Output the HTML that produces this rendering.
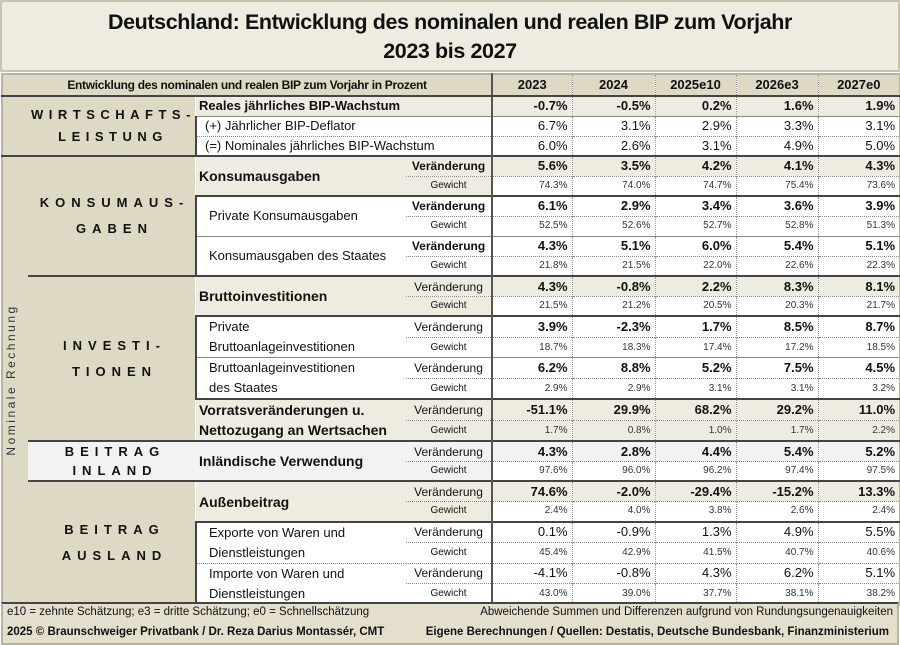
<!DOCTYPE html>
<html><head><meta charset="utf-8"><style>
*{box-sizing:border-box;margin:0;padding:0}
body{width:900px;height:645px;background:#fff;font-family:"Liberation Sans",sans-serif;color:#111;overflow:hidden;position:relative}
#title{position:absolute;left:0;top:0;width:900px;height:72px;background:#eeece1;border:2px solid #c9c4ad;text-align:center;font-weight:bold;font-size:21.5px;line-height:29px;padding-top:6px;letter-spacing:-0.4px}
table{position:absolute;left:1px;top:73px;width:898px;border-collapse:collapse;table-layout:fixed;border:2px solid #b8b39c}
td{padding:0;overflow:hidden;white-space:nowrap;vertical-align:middle;line-height:14px}
tr{height:20.05px}
tr.r1{height:20px}
tr.h{height:22px}
.tan{background:#ddd9c4}.bl{background:#eeece1}.gr{background:#f2f2f2}.w{background:#fff}
.v{text-align:right;padding-right:4px;border-left:1px dotted #999;font-size:13px}
.vb{font-weight:bold}
.g{text-align:right;padding-right:4px;border-left:1px dotted #999;font-size:10px;color:#333;border-top:1px dotted #888}
.sub{text-align:center;font-size:12px;border-left:0}
.sg{text-align:center;font-size:10px;border-top:1px dotted #888}
.it{font-size:13px;padding-left:12px;line-height:20px}
.itb{font-size:14px;font-weight:bold;padding-left:3px;line-height:20px}
.one{line-height:16px}
.sect{text-align:center;font-weight:bold;font-size:13px;letter-spacing:6px;line-height:26px;padding-left:6px}
.T{border-top:2px solid #444}
.Tt{border-top:1px solid #888}
.L{border-left:2px solid #444}
.val0{border-left:2px solid #555}
.hd{background:#ddd9c4;font-weight:bold;font-size:13px;text-align:center;border-bottom:2px solid #444}
#foot{position:absolute;left:1px;top:602px;width:898px;height:43px;background:#e3dfcc;border:2px solid #b8b39c;border-top:2px solid #444;font-size:11.5px}
#foot div{position:absolute;white-space:nowrap}
</style></head><body>
<div id="title">Deutschland: Entwicklung des nominalen und realen BIP zum Vorjahr<br>2023 bis 2027</div>
<table>
<colgroup><col style="width:26px"><col style="width:168px"><col style="width:210px"><col style="width:86px"><col style="width:80px"><col style="width:83px"><col style="width:81px"><col style="width:82px"><col style="width:82px"></colgroup>
<tr class="h"><td class="hd" colspan="4" style="font-size:12px;letter-spacing:-0.3px">Entwicklung des nominalen und realen BIP zum Vorjahr in Prozent</td><td class="hd val0">2023</td><td class="hd" style="border-left:1px dotted #999">2024</td><td class="hd" style="border-left:1px dotted #999">2025e10</td><td class="hd" style="border-left:1px dotted #999">2026e3</td><td class="hd" style="border-left:1px dotted #999">2027e0</td></tr>

<tr class="r1"><td class="tan sect" colspan="2" rowspan="3" style="padding-left:28px;line-height:22px;letter-spacing:5.5px">WIRTSCHAFTS-<br>LEISTUNG</td><td class="bl itb one" colspan="2" style="font-size:13px">Reales jährliches BIP-Wachstum</td><td class="bl v vb val0">-0.7%</td><td class="bl v vb">-0.5%</td><td class="bl v vb">0.2%</td><td class="bl v vb">1.6%</td><td class="bl v vb">1.9%</td></tr>
<tr class="r1"><td class="w it one L Tt" colspan="2" style="padding-left:8px">(+) Jährlicher BIP-Deflator</td><td class="w v val0 Tt">6.7%</td><td class="w v Tt">3.1%</td><td class="w v Tt">2.9%</td><td class="w v Tt">3.3%</td><td class="w v Tt">3.1%</td></tr>
<tr class="r1"><td class="w it one L" colspan="2" style="padding-left:8px;border-top:1px dotted #888">(=) Nominales jährliches BIP-Wachstum</td><td class="w v val0" style="border-top:1px dotted #888">6.0%</td><td class="w v" style="border-top:1px dotted #888">2.6%</td><td class="w v" style="border-top:1px dotted #888">3.1%</td><td class="w v" style="border-top:1px dotted #888">4.9%</td><td class="w v" style="border-top:1px dotted #888">5.0%</td></tr>

<tr><td class="tan T" rowspan="22" style="position:relative"><div style="position:absolute;left:1px;top:0;width:24px;height:100%;writing-mode:vertical-rl;transform:rotate(180deg);text-align:center;font-size:12px;letter-spacing:2.5px;color:#333">Nominale Rechnung</div></td>
<td class="tan sect T" rowspan="6">KONSUMAUS-<br>GABEN</td>
<td class="bl itb T" rowspan="2">Konsumausgaben</td><td class="bl sub T" style="font-weight:bold">Veränderung</td><td class="bl v vb val0 T">5.6%</td><td class="bl v vb T">3.5%</td><td class="bl v vb T">4.2%</td><td class="bl v vb T">4.1%</td><td class="bl v vb T">4.3%</td></tr>
<tr><td class="bl sg">Gewicht</td><td class="w g val0">74.3%</td><td class="w g">74.0%</td><td class="w g">74.7%</td><td class="w g">75.4%</td><td class="w g">73.6%</td></tr>
<tr><td class="w it T L" rowspan="2">Private Konsumausgaben</td><td class="w sub T" style="font-weight:bold">Veränderung</td><td class="w v vb val0 T">6.1%</td><td class="w v vb T">2.9%</td><td class="w v vb T">3.4%</td><td class="w v vb T">3.6%</td><td class="w v vb T">3.9%</td></tr>
<tr><td class="w sg">Gewicht</td><td class="w g val0">52.5%</td><td class="w g">52.6%</td><td class="w g">52.7%</td><td class="w g">52.8%</td><td class="w g">51.3%</td></tr>
<tr><td class="w it Tt L" rowspan="2">Konsumausgaben des Staates</td><td class="w sub Tt" style="font-weight:bold">Veränderung</td><td class="w v vb val0 Tt">4.3%</td><td class="w v vb Tt">5.1%</td><td class="w v vb Tt">6.0%</td><td class="w v vb Tt">5.4%</td><td class="w v vb Tt">5.1%</td></tr>
<tr><td class="w sg">Gewicht</td><td class="w g val0">21.8%</td><td class="w g">21.5%</td><td class="w g">22.0%</td><td class="w g">22.6%</td><td class="w g">22.3%</td></tr>

<tr><td class="tan sect T" rowspan="8">INVESTI-<br>TIONEN</td>
<td class="bl itb T" rowspan="2">Bruttoinvestitionen</td><td class="bl sub T">Veränderung</td><td class="bl v vb val0 T">4.3%</td><td class="bl v vb T">-0.8%</td><td class="bl v vb T">2.2%</td><td class="bl v vb T">8.3%</td><td class="bl v vb T">8.1%</td></tr>
<tr><td class="bl sg">Gewicht</td><td class="w g val0">21.5%</td><td class="w g">21.2%</td><td class="w g">20.5%</td><td class="w g">20.3%</td><td class="w g">21.7%</td></tr>
<tr><td class="w it T L" rowspan="2">Private<br>Bruttoanlageinvestitionen</td><td class="w sub T">Veränderung</td><td class="w v vb val0 T">3.9%</td><td class="w v vb T">-2.3%</td><td class="w v vb T">1.7%</td><td class="w v vb T">8.5%</td><td class="w v vb T">8.7%</td></tr>
<tr><td class="w sg">Gewicht</td><td class="w g val0">18.7%</td><td class="w g">18.3%</td><td class="w g">17.4%</td><td class="w g">17.2%</td><td class="w g">18.5%</td></tr>
<tr><td class="w it Tt L" rowspan="2">Bruttoanlageinvestitionen<br>des Staates</td><td class="w sub Tt">Veränderung</td><td class="w v vb val0 Tt">6.2%</td><td class="w v vb Tt">8.8%</td><td class="w v vb Tt">5.2%</td><td class="w v vb Tt">7.5%</td><td class="w v vb Tt">4.5%</td></tr>
<tr><td class="w sg">Gewicht</td><td class="w g val0">2.9%</td><td class="w g">2.9%</td><td class="w g">3.1%</td><td class="w g">3.1%</td><td class="w g">3.2%</td></tr>
<tr><td class="bl itb T" rowspan="2">Vorratsveränderungen u.<br>Nettozugang an Wertsachen</td><td class="bl sub T">Veränderung</td><td class="bl v vb val0 T">-51.1%</td><td class="bl v vb T">29.9%</td><td class="bl v vb T">68.2%</td><td class="bl v vb T">29.2%</td><td class="bl v vb T">11.0%</td></tr>
<tr><td class="bl sg">Gewicht</td><td class="bl g val0">1.7%</td><td class="bl g">0.8%</td><td class="bl g">1.0%</td><td class="bl g">1.7%</td><td class="bl g">2.2%</td></tr>

<tr><td class="gr sect T" rowspan="2" style="line-height:19px">BEITRAG<br>INLAND</td>
<td class="gr itb T" rowspan="2">Inländische Verwendung</td><td class="gr sub T">Veränderung</td><td class="gr v vb val0 T">4.3%</td><td class="gr v vb T">2.8%</td><td class="gr v vb T">4.4%</td><td class="gr v vb T">5.4%</td><td class="gr v vb T">5.2%</td></tr>
<tr><td class="gr sg">Gewicht</td><td class="w g val0">97.6%</td><td class="w g">96.0%</td><td class="w g">96.2%</td><td class="w g">97.4%</td><td class="w g">97.5%</td></tr>

<tr><td class="tan sect T" rowspan="6">BEITRAG<br>AUSLAND</td>
<td class="bl itb T" rowspan="2">Außenbeitrag</td><td class="bl sub T">Veränderung</td><td class="bl v vb val0 T">74.6%</td><td class="bl v vb T">-2.0%</td><td class="bl v vb T">-29.4%</td><td class="bl v vb T">-15.2%</td><td class="bl v vb T">13.3%</td></tr>
<tr><td class="bl sg">Gewicht</td><td class="w g val0">2.4%</td><td class="w g">4.0%</td><td class="w g">3.8%</td><td class="w g">2.6%</td><td class="w g">2.4%</td></tr>
<tr><td class="w it T L" rowspan="2">Exporte von Waren und<br>Dienstleistungen</td><td class="w sub T">Veränderung</td><td class="w v val0 T">0.1%</td><td class="w v T">-0.9%</td><td class="w v T">1.3%</td><td class="w v T">4.9%</td><td class="w v T">5.5%</td></tr>
<tr><td class="w sg">Gewicht</td><td class="w g val0">45.4%</td><td class="w g">42.9%</td><td class="w g">41.5%</td><td class="w g">40.7%</td><td class="w g">40.6%</td></tr>
<tr><td class="w it L" rowspan="2" style="border-top:1px dotted #888">Importe von Waren und<br>Dienstleistungen</td><td class="w sub" style="border-top:1px dotted #888">Veränderung</td><td class="w v val0" style="border-top:1px dotted #888">-4.1%</td><td class="w v" style="border-top:1px dotted #888">-0.8%</td><td class="w v" style="border-top:1px dotted #888">4.3%</td><td class="w v" style="border-top:1px dotted #888">6.2%</td><td class="w v" style="border-top:1px dotted #888">5.1%</td></tr>
<tr><td class="w sg">Gewicht</td><td class="w g val0">43.0%</td><td class="w g">39.0%</td><td class="w g">37.7%</td><td class="w g">38.1%</td><td class="w g">38.2%</td></tr>
</table>
<div id="foot">
<div style="left:4px;top:2px">e10 = zehnte Schätzung; e3 = dritte Schätzung; e0 = Schnellschätzung</div>
<div style="right:4px;top:2px">Abweichende Summen und Differenzen aufgrund von Rundungsungenauigkeiten</div>
<div style="left:4px;top:22px;font-weight:bold">2025 © Braunschweiger Privatbank / Dr. Reza Darius Montassér, CMT</div>
<div style="right:8px;top:22px;font-weight:bold">Eigene Berechnungen / Quellen: Destatis, Deutsche Bundesbank, Finanzministerium</div>
</div>
</body></html>
